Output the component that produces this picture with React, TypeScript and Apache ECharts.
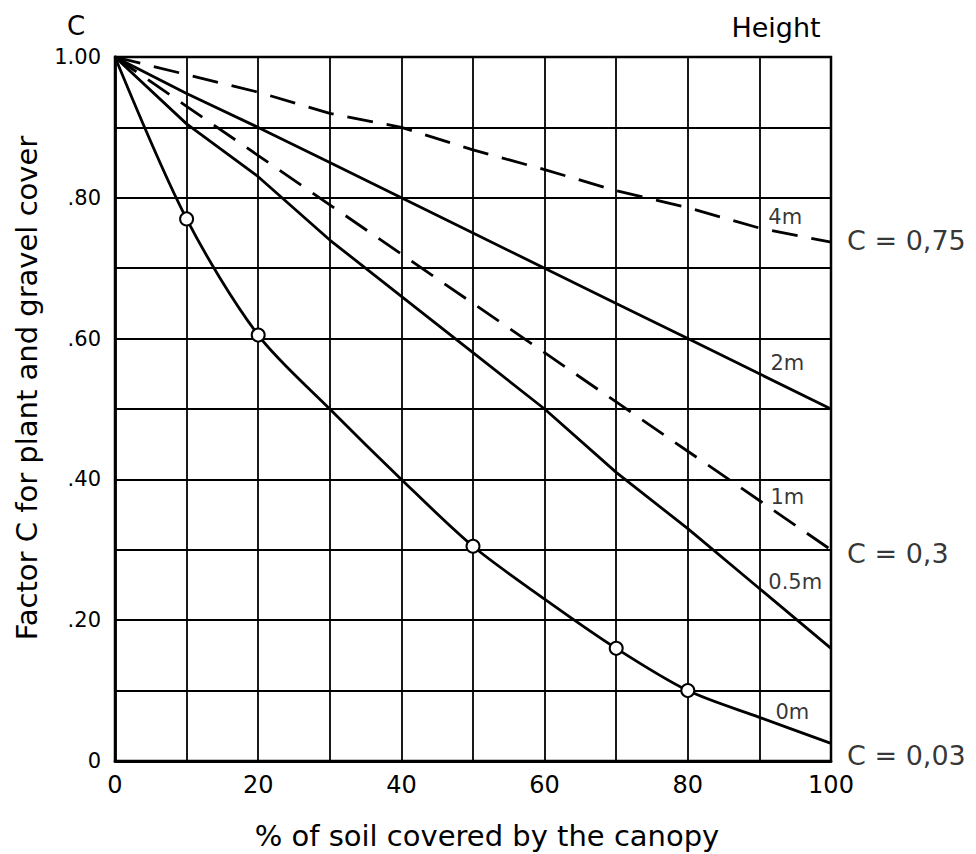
import React, { useEffect, useRef } from "react";
import * as echarts from "echarts";

// % of soil covered by the canopy
const coverPct = [0, 10, 20, 30, 40, 50, 60, 70, 80, 90, 100];
// Factor C per canopy height
const c4m = [1.0, 0.975, 0.95, 0.92, 0.9, 0.868, 0.84, 0.81, 0.786, 0.757, 0.737];
const c2m = [1.0, 0.948, 0.9, 0.85, 0.8, 0.75, 0.7, 0.65, 0.6, 0.55, 0.5];
const c1m = [1.0, 0.93, 0.86, 0.79, 0.72, 0.65, 0.58, 0.51, 0.44, 0.37, 0.3];
const c05m = [1.0, 0.905, 0.83, 0.74, 0.66, 0.58, 0.5, 0.41, 0.33, 0.245, 0.16];
const c0m = [1.0, 0.77, 0.605, 0.5, 0.4, 0.305, 0.23, 0.16, 0.1, 0.062, 0.025];
// open circles on the 0 m curve
const circleX = [10, 20, 50, 70, 80];
const circleY = [0.77, 0.605, 0.305, 0.16, 0.1];
// curve labels (data coordinates)
const curveLabelText = ["4m", "2m", "1m", "0.5m", "0m"];
const curveLabelX = [93.6, 93.9, 93.9, 95.0, 94.6];
const curveLabelY = [0.773, 0.565, 0.375, 0.254, 0.07];
// right side C values
const rightLabelText = ["C = 0,75", "C = 0,3", "C = 0,03"];
const rightLabelY = [0.74, 0.295, 0.0085];

const FONT = "DejaVu Sans";

const pairs = (ys: number[]) => coverPct.map((x, i) => [x, ys[i]]);

export default function App() {
  const ref = useRef<HTMLDivElement>(null);
  useEffect(() => {
    if (!ref.current) return;
    const chart = echarts.init(ref.current, null, { renderer: "svg" });
    const solid = { color: "#000", width: 2.8, type: "solid" as const };
    const dashed = { color: "#000", width: 2.8, type: [26, 14] as any };
    chart.setOption({
      animation: false,
      backgroundColor: "#fff",
      grid: {
        left: 115,
        top: 57,
        width: 716,
        height: 704,
        show: true,
        borderColor: "#000",
        borderWidth: 2.5,
        containLabel: false,
        outerBoundsMode: "none",
      },
      xAxis: {
        type: "value",
        min: 0,
        max: 100,
        interval: 10,
        axisLine: { show: true, lineStyle: { color: "#000", width: 2.8 } },
        axisTick: { show: false },
        splitLine: { show: true, lineStyle: { color: "#000", width: 1.8 } },
        axisLabel: {
          color: "#000",
          fontFamily: FONT,
          fontSize: 24,
          margin: 12,
          showMaxLabel: true,
          showMinLabel: true,
          formatter: (v: number) => (Math.round(v) % 20 === 0 ? String(Math.round(v)) : ""),
        },
      },
      yAxis: {
        type: "value",
        min: 0,
        max: 1,
        interval: 0.1,
        axisLine: { show: true, lineStyle: { color: "#000", width: 2.8 } },
        axisTick: { show: false },
        splitLine: { show: true, lineStyle: { color: "#000", width: 1.8 } },
        axisLabel: {
          color: "#000",
          fontFamily: FONT,
          fontSize: 21,
          margin: 14,
          showMaxLabel: true,
          showMinLabel: true,
          formatter: (v: number) => {
            const k = Math.round(v * 10);
            if (k % 2 !== 0) return "";
            if (k === 0) return "0";
            if (k === 10) return "1.00";
            return "." + String(k * 10);
          },
        },
      },
      series: [
        { type: "line", data: pairs(c4m), symbol: "none", lineStyle: dashed, z: 3 },
        { type: "line", data: pairs(c2m), symbol: "none", lineStyle: solid, z: 3 },
        { type: "line", data: pairs(c1m), symbol: "none", lineStyle: dashed, z: 3 },
        { type: "line", data: pairs(c05m), symbol: "none", lineStyle: solid, z: 3 },
        { type: "line", data: pairs(c0m), symbol: "none", smooth: 0.3, lineStyle: solid, z: 3 },
        {
          type: "scatter",
          data: circleX.map((x, i) => [x, circleY[i]]),
          symbol: "circle",
          symbolSize: 13,
          itemStyle: { color: "#fff", borderColor: "#000", borderWidth: 2, opacity: 1 },
          z: 5,
        },
        {
          type: "scatter",
          data: curveLabelText.map((t, i) => ({ name: t, value: [curveLabelX[i], curveLabelY[i]] })),
          symbolSize: 0,
          silent: true,
          label: {
            show: true,
            position: "inside",
            formatter: "{b}",
            color: "#000",
            fontFamily: FONT,
            fontSize: 21,
          },
          z: 6,
        },
        {
          type: "scatter",
          data: rightLabelText.map((t, i) => ({ name: t, value: [100, rightLabelY[i]] })),
          symbolSize: 0,
          silent: true,
          clip: false,
          label: {
            show: true,
            position: "right",
            distance: 16,
            formatter: "{b}",
            color: "#000",
            fontFamily: FONT,
            fontSize: 27,
          },
          z: 6,
        },
      ],
      graphic: [
        {
          type: "text",
          x: 76,
          y: 26,
          style: { text: "C", fill: "#000", font: `26px '${FONT}'`, align: "center", verticalAlign: "middle" },
        },
        {
          type: "text",
          x: 776,
          y: 27,
          style: { text: "Height", fill: "#000", font: `27px '${FONT}'`, align: "center", verticalAlign: "middle" },
        },
        {
          type: "text",
          x: 487,
          y: 836,
          style: {
            text: "% of soil covered by the canopy",
            fill: "#000",
            font: `29px '${FONT}'`,
            align: "center",
            verticalAlign: "middle",
          },
        },
        {
          type: "text",
          x: 27,
          y: 388,
          rotation: Math.PI / 2,
          style: {
            text: "Factor C for plant and gravel cover",
            fill: "#000",
            font: `29px '${FONT}'`,
            align: "center",
            verticalAlign: "middle",
          },
        },
      ],
    });
    return () => chart.dispose();
  }, []);
  return (
    <div
      ref={ref}
      style={{ position: "absolute", left: 0, top: 0, width: 976, height: 854 }}
    />
  );
}
